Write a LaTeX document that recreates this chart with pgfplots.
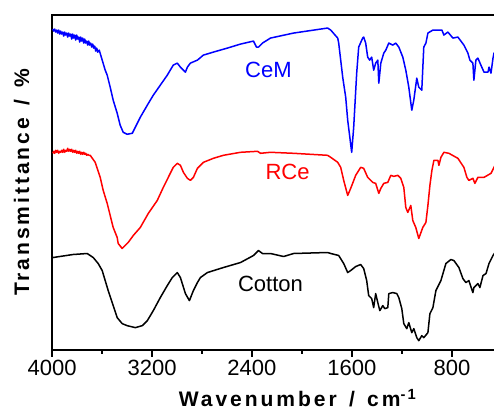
\documentclass[border=0pt]{standalone}
\usepackage{pgfplots}
\pgfplotsset{compat=1.18}
\usepackage{fontspec}
\setmainfont{Liberation Sans}
\newfontfamily\labfont[LetterSpace=14]{Liberation Sans}
\begin{document}
\begin{tikzpicture}
\useasboundingbox (-52pt,-62pt) rectangle (441pt,349pt);
\begin{axis}[
  at={(0,0)}, anchor=south west,
  scale only axis, width=442pt, height=334pt,
  x dir=reverse, xmin=455, xmax=4000, ymin=51, ymax=385,
  xtick={800,1600,2400,3200,4000}, minor xtick={1200,2000,2800,3600},
  ytick=\empty, xtick pos=bottom, tick align=outside,
  major tick length=7pt, minor tick length=4pt,
  every tick/.style={black, line width=1.3pt},
  axis line style={line width=2pt},
  /pgf/number format/assume math mode=true,
  /pgf/number format/1000 sep={},
  xticklabel style={font=\fontsize{22}{24}\selectfont},
  clip=true,
]
\addplot[blue, line width=1.5pt, line join=round] coordinates {
(3995,371)(3987,369)(3979,371)(3971,368)(3963,370)(3955,367)(3947,370)(3939,366)(3931,369)(3923,366)(3915,368)(3907,364)(3899,368)(3891,365)(3883,367)(3875,363)(3867,367)(3859,364)(3851,366)(3843,361)(3835,366)(3827,362)(3819,365)(3811,360)(3803,365)(3795,361)(3787,363)(3779,358)(3771,363)(3763,359)(3755,362)(3747,357)(3739,361)(3731,357)(3723,359)(3715,355)(3707,359)(3699,355)(3691,357)(3683,353)(3675,356)(3667,352)(3659,354)(3651,349)(3643,352)(3635,348)(3623,350)
(3599,340)(3575,330)(3559,325)(3535,313)(3511,300)(3479,287)(3455,275)(3431,268)(3399,266)(3358,267)(3334,273)(3294,283)(3238,295)(3190,305)(3134,315)(3078,325)(3030,335)(2998,337)(2973,333)(2949,330)(2933,328)(2917,333)(2893,337)(2837,340)(2789,345)(2709,348)(2597,352)(2492,356)(2388,359)(2364,353)(2348,353)(2316,357)(2252,362)(2067,367)(1795,372)(1770,370)
(1714,362)(1706,357)(1674,323)(1650,303)(1634,280)(1602,248)(1586,273)(1562,327)(1546,353)(1514,362)(1506,363)(1490,357)(1474,343)(1458,340)(1442,343)(1426,330)(1410,337)(1393,340)(1385,317)(1369,337)(1345,347)(1329,350)(1305,357)(1273,355)(1249,357)(1225,353)(1193,343)(1169,330)(1145,313)(1121,290)(1105,300)(1081,322)(1065,313)(1041,310)(1025,353)(1008,357)(992,367)(952,370)(912,370)(880,370)(864,365)(832,368)(792,362)(752,363)(704,355)(672,347)(656,340)(632,337)(624,320)(608,340)(592,342)(568,335)(543,328)(511,328)(503,333)(487,327)(471,342)(463,347)(455,348)
};
\addplot[red, line width=1.5pt, line join=round] coordinates {
(3995,247)(3987,249)(3979,247)(3971,250)(3963,248)(3955,250)(3947,247)(3939,249)(3931,248)(3923,250)(3915,248)(3907,251)(3899,248)(3891,250)(3883,249)(3875,252)(3867,249)(3859,251)(3851,249)(3843,251)(3835,248)(3827,250)(3819,248)(3811,250)(3803,247)(3795,249)(3787,247)(3779,249)(3771,246)(3763,248)(3755,246)(3747,248)(3739,246)(3731,247)(3723,245)(3715,246)(3705,245)(3695,245)
(3655,238)(3615,223)(3591,210)(3559,197)(3535,185)(3511,173)(3479,163)(3471,157)(3439,152)(3415,155)(3391,158)(3350,165)(3294,173)(3230,187)(3158,200)(3110,213)(3054,227)(3030,233)(2998,237)(2973,235)(2949,228)(2917,222)(2893,220)(2869,223)(2837,232)(2789,238)(2709,242)(2629,245)(2492,248)(2356,249)(2332,247)(2252,248)(2067,247)(1795,245)(1770,243)
(1714,238)(1690,233)(1666,220)(1634,205)(1610,212)(1570,225)(1530,233)(1506,232)(1474,223)(1434,218)(1410,217)(1385,207)(1369,212)(1345,217)(1313,218)(1289,225)(1265,224)(1233,225)(1209,222)(1185,213)(1169,193)(1153,188)(1129,195)(1113,180)(1089,173)(1065,162)(1033,173)(1008,178)(992,195)(976,215)(960,230)(944,240)(912,240)(904,235)(888,243)(864,248)(824,247)(752,242)(704,233)(680,223)(664,220)(632,222)(616,217)(592,223)(543,223)(487,227)(455,235)
};
\addplot[black, line width=1.5pt, line join=round] coordinates {
(3992,143)(3832,146)(3719,147)(3671,143)(3631,137)(3599,130)(3575,120)(3551,110)(3519,98)(3479,83)(3439,77)(3399,75)(3334,73)(3278,75)(3238,80)(3190,90)(3134,103)(3078,115)(3038,123)(2998,128)(2973,123)(2933,107)(2901,100)(2869,110)(2837,118)(2813,123)(2757,128)(2629,133)(2492,138)(2388,145)(2348,150)(2316,147)(2252,147)(2147,144)(2067,147)(1795,148)(1770,147)
(1706,145)(1666,137)(1634,128)(1610,130)(1570,134)(1530,136)(1506,132)(1482,120)(1466,105)(1442,102)(1426,93)(1410,107)(1393,98)(1377,90)(1353,95)(1337,92)(1313,93)(1305,107)(1273,108)(1241,107)(1225,103)(1201,92)(1185,77)(1161,72)(1145,78)(1121,68)(1105,72)(1081,63)(1065,60)(1041,65)(1025,63)(992,68)(976,87)(952,93)(928,110)(888,120)(848,137)(808,141)(784,140)(744,133)(712,122)(688,118)(664,120)(632,108)(624,113)(592,117)(576,113)(551,125)(527,127)(503,137)(471,145)(455,148)
};
\node[blue, font=\fontsize{22}{24}\selectfont] at (axis cs:2268,330) {CeM};
\node[red, font=\fontsize{22}{24}\selectfont] at (axis cs:2115,228) {RCe};
\node[black, font=\fontsize{22}{24}\selectfont] at (axis cs:2252,117) {Cotton};
\end{axis}
\node[anchor=base, font=\labfont\bfseries\fontsize{21}{24}\selectfont] at (245pt,-57pt) {Wavenumber\, /\, cm\textsuperscript{-1}};
\node[rotate=90, anchor=base, font=\labfont\bfseries\fontsize{21}{24}\selectfont] at (-23pt,167pt) {Transmittance\, /\, \%};
\end{tikzpicture}
\end{document}
